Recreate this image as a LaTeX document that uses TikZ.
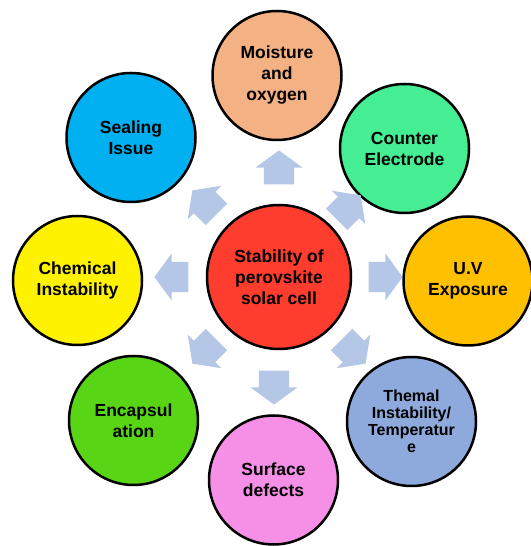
\documentclass[tikz,border=0pt]{standalone}
\usepackage{fontspec}
\setmainfont{Liberation Sans}
\usetikzlibrary{calc}
\usetikzlibrary{shapes.arrows}

\definecolor{peach}{HTML}{F4B183}
\definecolor{skyblue}{HTML}{00B0F0}
\definecolor{mint}{HTML}{45EE92}
\definecolor{amber}{HTML}{FFC000}
\definecolor{steel}{HTML}{8EA9DB}
\definecolor{pinkish}{HTML}{F590E6}
\definecolor{leaf}{HTML}{58D615}
\definecolor{tomato}{HTML}{FF3D2E}
\definecolor{paleblue}{HTML}{B4C7E7}

\begin{document}
\begin{tikzpicture}[
        x=1pt, y=1pt,
        cause/.style={circle, draw=black, line width=2.5pt, minimum size=129pt,
            inner sep=0pt, align=center, font=\bfseries\fontsize{17.5}{21}\selectfont},
        hub/.style={cause, minimum size=144pt},
        flow/.style={single arrow, fill=paleblue, draw=none, minimum height=34pt,
            text height=15pt, text depth=15pt, text width=0pt,
            single arrow head extend=8.5pt, single arrow head indent=0pt,
            single arrow tip angle=108, inner sep=0pt},
    ]

    \useasboundingbox (0,0) rectangle (530,546);

    % Centre of the diagram
    \node[hub, fill=tomato] (C) at (279,269) {Stability of\\perovskite\\solar cell};

    % Outer circles
    \node[cause, fill=peach] (M) at (277,470.5) {Moisture\\and\\oxygen};
    \node[cause, fill=mint] (CE) at (404.5,397.5) {Counter\\Electrode};
    \node[cause, fill=amber] (UV) at (468,265) {U.V\\Exposure};
    \node[cause, fill=steel, font=\bfseries\fontsize{16}{17}\selectfont] (TI) at (411.5,124.5)
        {Themal\\Instability/\\Temperatur\\e};
    \node[cause, fill=pinkish] (SD) at (273.5,66) {Surface\\defects};
    \node[cause, fill=leaf] (EN) at (133.5,125.5) {Encapsul\\ation};
    \node[cause, fill=yellow] (CI) at (77.5,265.5) {Chemical\\Instability};
    \node[cause, fill=skyblue] (SI) at (131,408.5) {Sealing\\Issue};

    % Block arrows pointing outwards
    \node[flow, rotate=90] (A1) at ($(C)+(90:104)$) {};
    \node[flow, rotate=45] (A2) at ($(C)+(45:93)$) {};
    \node[flow, rotate=0] (A3) at ($(C)+(0:101)$) {};
    \node[flow, rotate=-45] (A4) at ($(C)+(-45:100)$) {};
    \node[flow, rotate=-90] (A5) at ($(C)+(-5,-105)$) {};
    \node[flow, rotate=-135] (A6) at ($(C)+(-135:100)$) {};
    \node[flow, rotate=180] (A7) at ($(C)+(180:102)$) {};
    \node[flow, rotate=135] (A8) at ($(C)+(135:100)$) {};
\end{tikzpicture}
\end{document}
